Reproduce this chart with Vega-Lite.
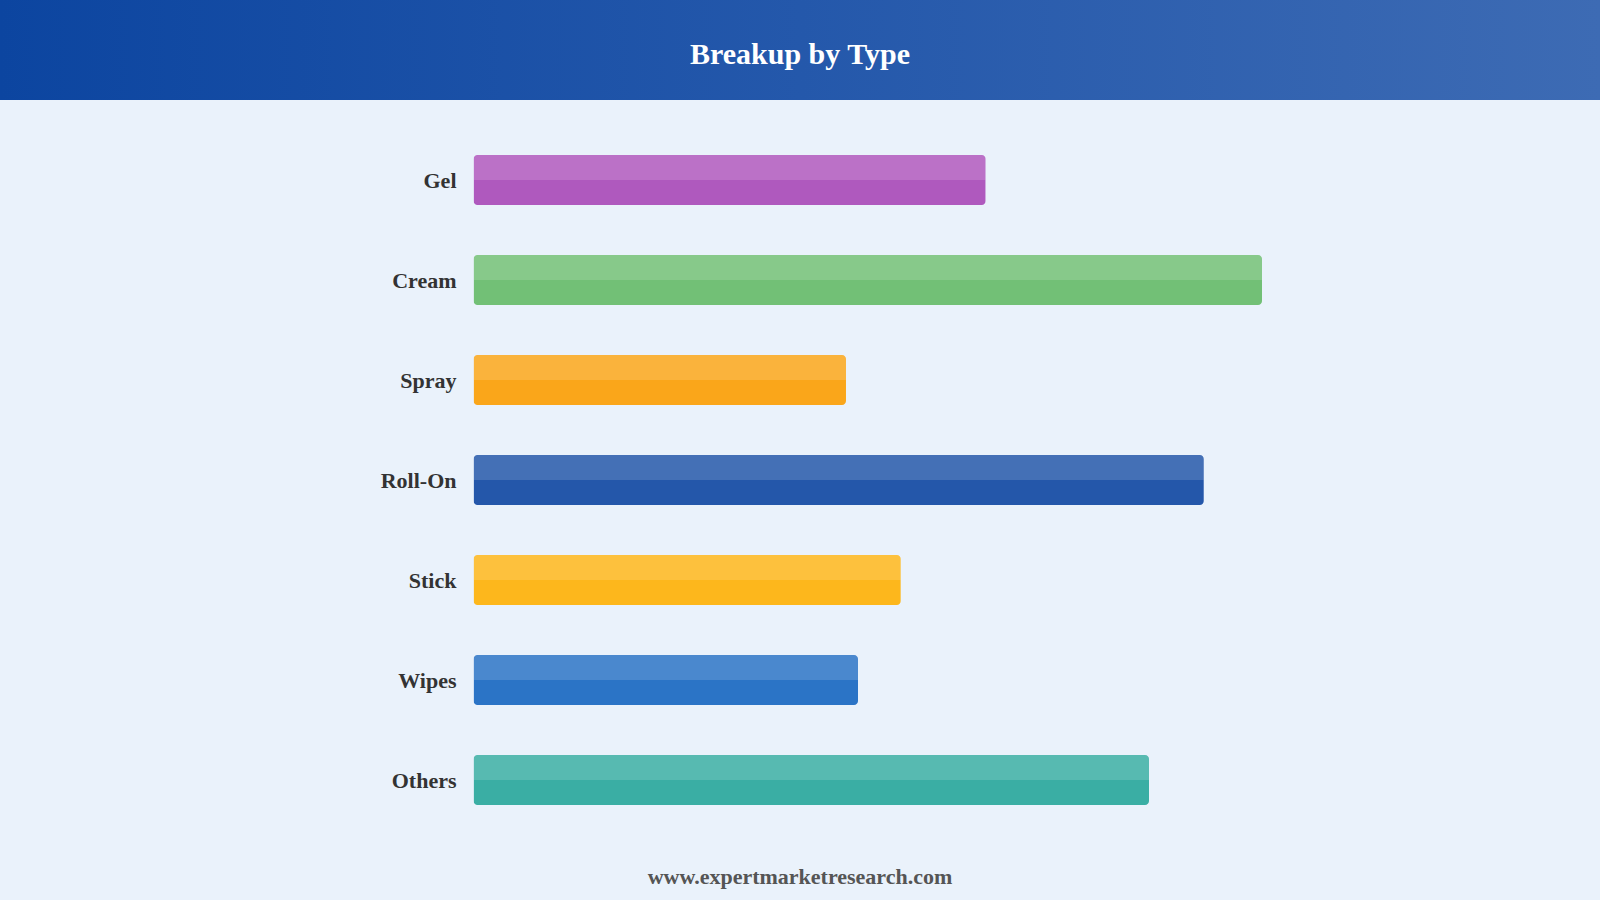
{
  "$schema": "https://vega.github.io/schema/vega-lite/v6.json",
  "background": "#EAF2FB",
  "padding": {"left": 0, "top": 0, "right": 0, "bottom": 12},
  "spacing": 30,
  "config": {
    "view": {"stroke": null},
    "font": "Liberation Serif"
  },
  "vconcat": [
    {
      "width": 1600,
      "height": 100,
      "data": {"values": [{"title": "Breakup by Type"}]},
      "layer": [
        {
          "mark": {
            "type": "rect",
            "color": {
              "gradient": "linear",
              "x1": 0, "y1": 0, "x2": 1, "y2": 0,
              "stops": [
                {"offset": 0, "color": "#0C45A0"},
                {"offset": 0.5, "color": "#2458AB"},
                {"offset": 1, "color": "#3D6BB4"}
              ]
            }
          },
          "encoding": {}
        },
        {
          "mark": {
            "type": "text",
            "font": "Liberation Serif",
            "fontSize": 30,
            "fontWeight": "bold",
            "color": "#FFFFFF",
            "baseline": "middle",
            "dy": 5
          },
          "encoding": {"text": {"field": "title"}}
        }
      ]
    },
    {
      "width": 1600,
      "height": 700,
      "title": {
        "text": "www.expertmarketresearch.com",
        "orient": "bottom",
        "anchor": "middle",
        "offset": 37,
        "font": "Liberation Serif",
        "fontSize": 22,
        "fontWeight": "bold",
        "color": "#555555"
      },
      "data": {
        "values": [
          {"type": "Gel", "share": 13.64},
          {"type": "Cream", "share": 21.0},
          {"type": "Spray", "share": 9.92},
          {"type": "Roll-On", "share": 19.45},
          {"type": "Stick", "share": 11.38},
          {"type": "Wipes", "share": 10.24},
          {"type": "Others", "share": 17.99}
        ]
      },
      "encoding": {
        "y": {
          "field": "type",
          "type": "nominal",
          "sort": null,
          "axis": null,
          "scale": {"paddingInner": 0.5, "paddingOuter": 0.25}
        }
      },
      "layer": [
        {
          "mark": {"type": "bar", "cornerRadius": 4},
          "encoding": {
            "x": {
              "field": "share",
              "type": "quantitative",
              "axis": null,
              "scale": {"domain": [0, 30], "range": [473.5, 1600], "nice": false}
            },
            "color": {
              "field": "type",
              "type": "nominal",
              "legend": null,
              "scale": {
                "domain": ["Gel", "Cream", "Spray", "Roll-On", "Stick", "Wipes", "Others"],
                "range": ["#AF59BE", "#72C076", "#FAA61A", "#2457AA", "#FDB71C", "#2B74C6", "#3AAEA4"]
              }
            }
          }
        },
        {
          "mark": {
            "type": "bar",
            "height": 25,
            "yOffset": -12.5,
            "color": "#FFFFFF",
            "opacity": 0.15,
            "cornerRadiusTopLeft": 4,
            "cornerRadiusTopRight": 4
          },
          "encoding": {
            "x": {"field": "share", "type": "quantitative"}
          }
        },
        {
          "mark": {
            "type": "text",
            "align": "right",
            "baseline": "middle",
            "dx": -17,
            "dy": 1,
            "font": "Liberation Serif",
            "fontSize": 22,
            "fontWeight": "bold",
            "color": "#333333"
          },
          "encoding": {
            "x": {"datum": 0, "type": "quantitative"},
            "text": {"field": "type"}
          }
        }
      ]
    }
  ]
}
